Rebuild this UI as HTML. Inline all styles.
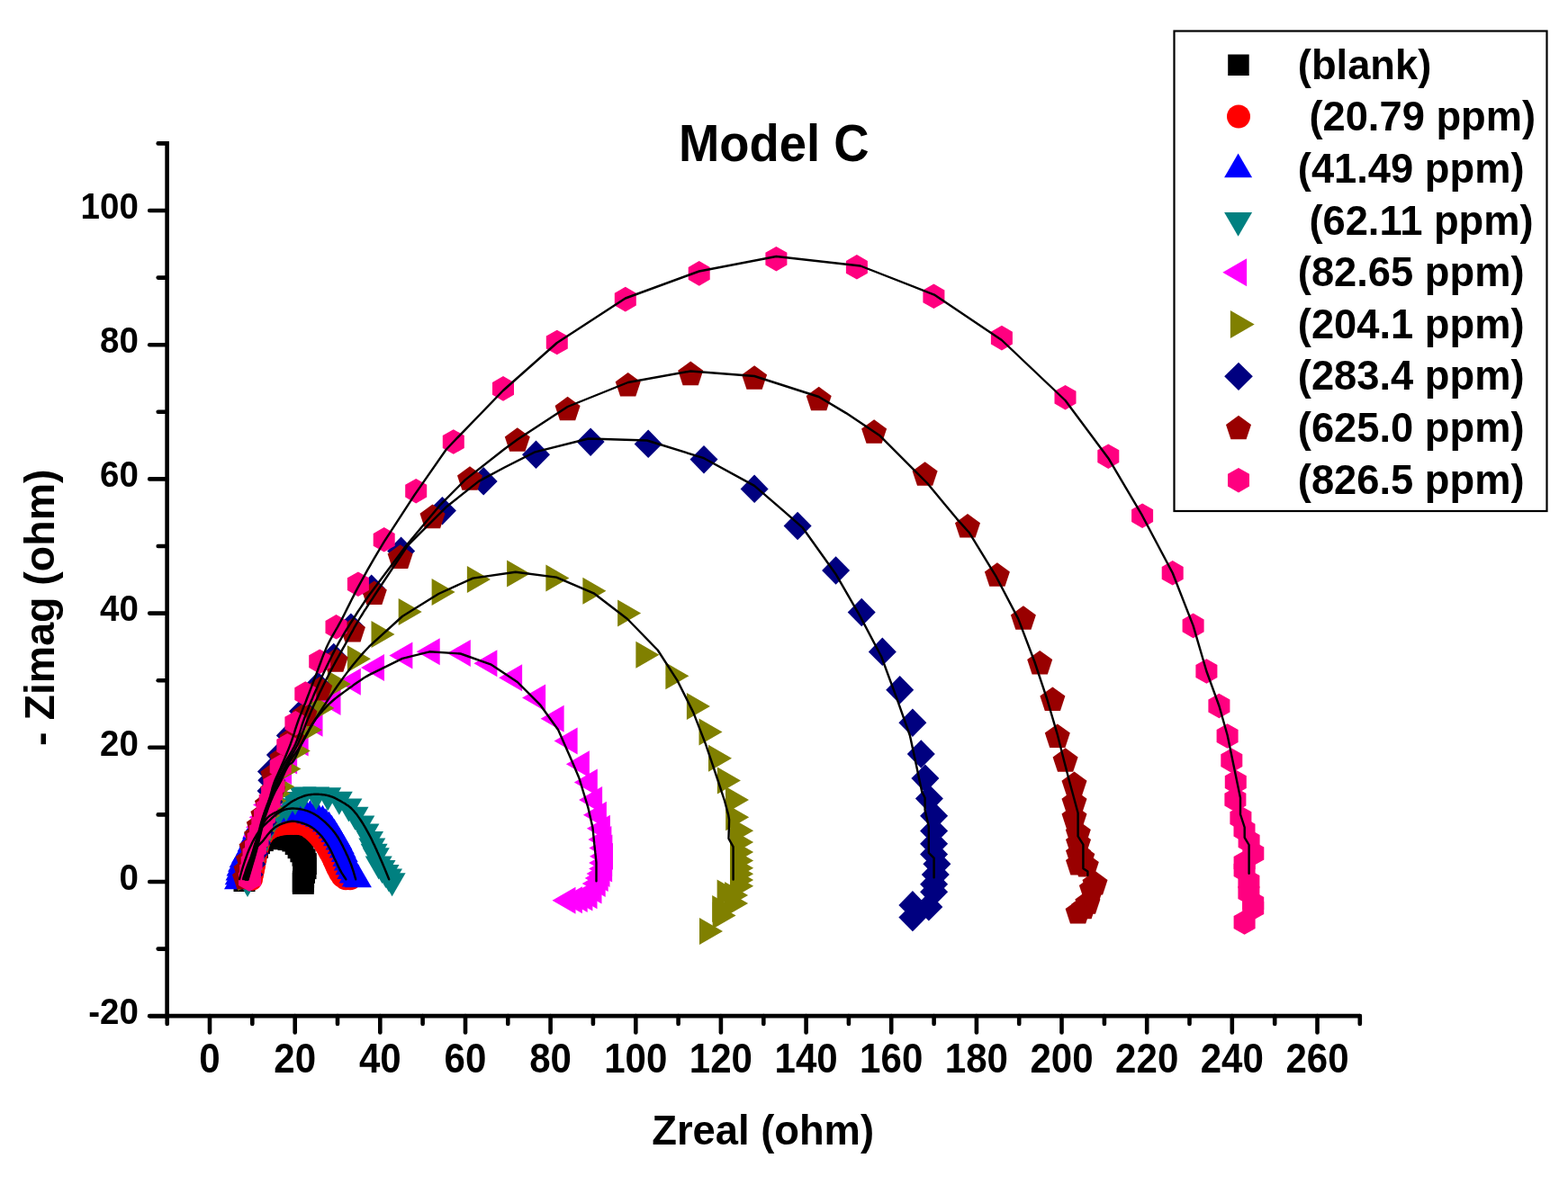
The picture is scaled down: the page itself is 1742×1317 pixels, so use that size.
<!DOCTYPE html>
<html><head><meta charset="utf-8"><title>Model C</title>
<style>html,body{margin:0;padding:0;background:#fff;}svg{display:block;}</style>
</head><body>
<svg width="1742" height="1317" viewBox="0 0 1742 1317">
<rect width="1742" height="1317" fill="#fff"/>
<g fill="#000000">
<rect x="259.5" y="967.0" width="24" height="24"/>
<rect x="261.7" y="962.5" width="24" height="24"/>
<rect x="263.9" y="958.0" width="24" height="24"/>
<rect x="265.9" y="953.4" width="24" height="24"/>
<rect x="267.5" y="948.7" width="24" height="24"/>
<rect x="269.0" y="943.9" width="24" height="24"/>
<rect x="270.6" y="939.2" width="24" height="24"/>
<rect x="272.2" y="934.5" width="24" height="24"/>
<rect x="273.9" y="929.8" width="24" height="24"/>
<rect x="275.9" y="925.2" width="24" height="24"/>
<rect x="279.8" y="922.1" width="24" height="24"/>
<rect x="283.8" y="919.1" width="24" height="24"/>
<rect x="288.8" y="919.0" width="24" height="24"/>
<rect x="293.8" y="919.3" width="24" height="24"/>
<rect x="298.7" y="920.0" width="24" height="24"/>
<rect x="303.7" y="920.3" width="24" height="24"/>
<rect x="308.6" y="921.1" width="24" height="24"/>
<rect x="313.4" y="922.5" width="24" height="24"/>
<rect x="316.7" y="926.1" width="24" height="24"/>
<rect x="319.6" y="930.2" width="24" height="24"/>
<rect x="322.4" y="934.3" width="24" height="24"/>
<rect x="324.5" y="938.8" width="24" height="24"/>
<rect x="326.6" y="943.4" width="24" height="24"/>
<rect x="327.8" y="948.1" width="24" height="24"/>
<rect x="327.5" y="953.1" width="24" height="24"/>
<rect x="326.0" y="957.8" width="24" height="24"/>
<rect x="325.1" y="962.7" width="24" height="24"/>
<rect x="324.8" y="967.7" width="24" height="24"/>
<rect x="324.8" y="969.9" width="24" height="24"/>
</g>
<g fill="#ff0000">
<circle cx="279.0" cy="977.0" r="13"/>
<circle cx="280.0" cy="972.1" r="13"/>
<circle cx="281.0" cy="967.2" r="13"/>
<circle cx="282.0" cy="962.3" r="13"/>
<circle cx="282.8" cy="957.4" r="13"/>
<circle cx="283.6" cy="952.4" r="13"/>
<circle cx="284.6" cy="947.5" r="13"/>
<circle cx="285.6" cy="942.6" r="13"/>
<circle cx="286.8" cy="937.8" r="13"/>
<circle cx="288.0" cy="932.9" r="13"/>
<circle cx="290.8" cy="928.8" r="13"/>
<circle cx="293.6" cy="924.6" r="13"/>
<circle cx="297.5" cy="921.6" r="13"/>
<circle cx="301.7" cy="918.9" r="13"/>
<circle cx="306.3" cy="917.2" r="13"/>
<circle cx="311.2" cy="916.0" r="13"/>
<circle cx="316.1" cy="915.3" r="13"/>
<circle cx="321.1" cy="915.1" r="13"/>
<circle cx="326.1" cy="915.0" r="13"/>
<circle cx="331.1" cy="915.0" r="13"/>
<circle cx="336.0" cy="915.9" r="13"/>
<circle cx="340.9" cy="917.0" r="13"/>
<circle cx="344.9" cy="920.0" r="13"/>
<circle cx="348.8" cy="923.1" r="13"/>
<circle cx="352.4" cy="926.6" r="13"/>
<circle cx="355.7" cy="930.3" r="13"/>
<circle cx="358.9" cy="934.1" r="13"/>
<circle cx="361.6" cy="938.3" r="13"/>
<circle cx="364.3" cy="942.5" r="13"/>
<circle cx="366.7" cy="946.9" r="13"/>
<circle cx="369.1" cy="951.3" r="13"/>
<circle cx="371.2" cy="955.8" r="13"/>
<circle cx="373.3" cy="960.4" r="13"/>
<circle cx="375.4" cy="964.9" r="13"/>
<circle cx="377.7" cy="969.4" r="13"/>
<circle cx="380.4" cy="973.5" r="13"/>
<circle cx="384.1" cy="976.3" r="13"/>
<circle cx="389.0" cy="976.2" r="13"/>
</g>
<g fill="#0000ff">
<polygon points="264.0,962.3 279.0,988.3 249.0,988.3"/>
<polygon points="264.7,957.4 279.7,983.3 249.7,983.3"/>
<polygon points="265.5,952.4 280.5,978.4 250.5,978.4"/>
<polygon points="266.5,947.5 281.5,973.5 251.5,973.5"/>
<polygon points="268.1,942.8 283.1,968.8 253.1,968.8"/>
<polygon points="269.7,938.1 284.7,964.0 254.7,964.0"/>
<polygon points="272.0,933.7 287.0,959.6 257.0,959.6"/>
<polygon points="274.6,929.4 289.6,955.4 259.6,955.4"/>
<polygon points="276.8,924.9 291.8,950.9 261.8,950.9"/>
<polygon points="278.7,920.3 293.7,946.3 263.7,946.3"/>
<polygon points="280.5,915.6 295.5,941.6 265.5,941.6"/>
<polygon points="282.3,911.0 297.3,937.0 267.3,937.0"/>
<polygon points="284.1,906.3 299.1,932.3 269.1,932.3"/>
<polygon points="285.8,901.6 300.8,927.6 270.8,927.6"/>
<polygon points="288.3,897.3 303.3,923.2 273.3,923.2"/>
<polygon points="291.5,893.5 306.5,919.5 276.5,919.5"/>
<polygon points="295.5,890.5 310.5,916.5 280.5,916.5"/>
<polygon points="300.0,888.4 315.0,914.4 285.0,914.4"/>
<polygon points="304.8,887.3 319.8,913.3 289.8,913.3"/>
<polygon points="309.8,886.8 324.8,912.8 294.8,912.8"/>
<polygon points="314.8,886.5 329.8,912.5 299.8,912.5"/>
<polygon points="319.8,886.5 334.8,912.5 304.8,912.5"/>
<polygon points="324.8,886.5 339.8,912.5 309.8,912.5"/>
<polygon points="329.8,886.7 344.8,912.7 314.8,912.7"/>
<polygon points="334.8,887.2 349.8,913.1 319.8,913.1"/>
<polygon points="339.7,888.1 354.7,914.1 324.7,914.1"/>
<polygon points="344.5,889.3 359.5,915.3 329.5,915.3"/>
<polygon points="349.3,890.8 364.3,916.8 334.3,916.8"/>
<polygon points="353.9,892.7 368.9,918.7 338.9,918.7"/>
<polygon points="358.4,894.8 373.4,920.8 343.4,920.8"/>
<polygon points="362.0,898.2 377.0,924.2 347.0,924.2"/>
<polygon points="365.6,901.8 380.6,927.8 350.6,927.8"/>
<polygon points="368.5,905.8 383.5,931.8 353.5,931.8"/>
<polygon points="371.4,909.9 386.4,935.9 356.4,935.9"/>
<polygon points="373.9,914.2 388.9,940.2 358.9,940.2"/>
<polygon points="376.5,918.5 391.5,944.5 361.5,944.5"/>
<polygon points="378.7,923.0 393.7,949.0 363.7,949.0"/>
<polygon points="380.7,927.6 395.7,953.5 365.7,953.5"/>
<polygon points="382.7,932.2 397.7,958.1 367.7,958.1"/>
<polygon points="384.4,936.9 399.4,962.9 369.4,962.9"/>
<polygon points="385.8,941.6 400.8,967.6 370.8,967.6"/>
<polygon points="387.5,946.4 402.5,972.3 372.5,972.3"/>
<polygon points="389.4,951.0 404.4,976.9 374.4,976.9"/>
<polygon points="391.7,955.4 406.7,981.4 376.7,981.4"/>
<polygon points="394.7,959.4 409.7,985.4 379.7,985.4"/>
<polygon points="397.9,960.3 412.9,986.3 382.9,986.3"/>
</g>
<g fill="#008080">
<polygon points="260.0,971.0 290.0,971.0 275.0,997.0"/>
<polygon points="261.5,965.2 291.5,965.2 276.5,991.2"/>
<polygon points="262.9,959.4 292.9,959.4 277.9,985.3"/>
<polygon points="264.8,953.7 294.8,953.7 279.8,979.6"/>
<polygon points="266.7,948.0 296.7,948.0 281.7,974.0"/>
<polygon points="268.6,942.3 298.6,942.3 283.6,968.3"/>
<polygon points="270.5,936.6 300.5,936.6 285.5,962.6"/>
<polygon points="272.7,931.0 302.7,931.0 287.7,957.0"/>
<polygon points="275.0,925.5 305.0,925.5 290.0,951.5"/>
<polygon points="277.4,920.0 307.4,920.0 292.4,946.0"/>
<polygon points="279.9,914.5 309.9,914.5 294.9,940.5"/>
<polygon points="282.7,909.2 312.7,909.2 297.7,935.2"/>
<polygon points="285.8,904.1 315.8,904.1 300.8,930.1"/>
<polygon points="289.4,899.3 319.4,899.3 304.4,925.3"/>
<polygon points="293.3,894.8 323.3,894.8 308.3,920.8"/>
<polygon points="302.9,887.2 332.9,887.2 317.9,913.2"/>
<polygon points="312.9,879.9 342.9,879.9 327.9,905.9"/>
<polygon points="321.5,874.5 351.5,874.5 336.5,900.5"/>
<polygon points="336.2,874.5 366.2,874.5 351.2,900.5"/>
<polygon points="349.2,875.3 379.2,875.3 364.2,901.3"/>
<polygon points="361.8,879.8 391.8,879.8 376.8,905.8"/>
<polygon points="372.4,887.6 402.4,887.6 387.4,913.6"/>
<polygon points="379.5,896.8 409.5,896.8 394.5,922.8"/>
<polygon points="386.3,906.4 416.3,906.4 401.3,932.4"/>
<polygon points="391.4,915.5 421.4,915.5 406.4,941.5"/>
<polygon points="396.0,924.1 426.0,924.1 411.0,950.1"/>
<polygon points="398.3,931.5 428.3,931.5 413.3,957.5"/>
<polygon points="400.6,937.8 430.6,937.8 415.6,963.8"/>
<polygon points="402.8,942.3 432.8,942.3 417.8,968.3"/>
<polygon points="405.7,951.4 435.7,951.4 420.7,977.4"/>
<polygon points="409.5,956.0 439.5,956.0 424.5,982.0"/>
<polygon points="413.5,961.0 443.5,961.0 428.5,987.0"/>
<polygon points="417.0,965.5 447.0,965.5 432.0,991.5"/>
<polygon points="420.6,970.2 450.6,970.2 435.6,996.2"/>
</g>
<g fill="#ff00ff">
<polygon points="263.5,970.0 289.5,955.0 289.5,985.0"/>
<polygon points="264.0,961.0 290.0,946.0 290.0,976.0"/>
<polygon points="265.0,951.0 291.0,936.0 291.0,966.0"/>
<polygon points="267.0,940.0 293.0,925.0 293.0,955.0"/>
<polygon points="269.7,929.2 295.7,914.2 295.7,944.2"/>
<polygon points="273.0,919.2 299.0,904.2 299.0,934.2"/>
<polygon points="276.6,908.3 302.6,893.3 302.6,923.3"/>
<polygon points="281.0,894.6 307.0,879.6 307.0,909.6"/>
<polygon points="287.5,880.5 313.5,865.5 313.5,895.5"/>
<polygon points="293.5,867.2 319.5,852.2 319.5,882.2"/>
<polygon points="298.0,857.0 324.0,842.0 324.0,872.0"/>
<polygon points="304.1,845.4 330.1,830.4 330.1,860.4"/>
<polygon points="316.6,825.4 342.6,810.4 342.6,840.4"/>
<polygon points="332.5,803.7 358.5,788.7 358.5,818.7"/>
<polygon points="352.5,780.0 378.5,765.0 378.5,795.0"/>
<polygon points="374.8,757.7 400.8,742.7 400.8,772.7"/>
<polygon points="401.0,741.9 427.0,726.9 427.0,756.9"/>
<polygon points="432.4,728.5 458.4,713.5 458.4,743.5"/>
<polygon points="462.7,724.2 488.7,709.2 488.7,739.2"/>
<polygon points="496.8,725.9 522.8,710.9 522.8,740.9"/>
<polygon points="526.4,737.3 552.4,722.3 552.4,752.3"/>
<polygon points="554.1,753.3 580.1,738.3 580.1,768.3"/>
<polygon points="580.1,775.4 606.1,760.4 606.1,790.4"/>
<polygon points="600.6,798.7 626.6,783.7 626.6,813.7"/>
<polygon points="615.6,823.4 641.6,808.4 641.6,838.4"/>
<polygon points="628.9,849.2 654.9,834.2 654.9,864.2"/>
<polygon points="637.8,869.6 663.8,854.6 663.8,884.6"/>
<polygon points="643.1,889.1 669.1,874.1 669.1,904.1"/>
<polygon points="647.9,905.7 673.9,890.7 673.9,920.7"/>
<polygon points="651.9,920.8 677.9,905.8 677.9,935.8"/>
<polygon points="653.4,933.1 679.4,918.1 679.4,948.1"/>
<polygon points="654.4,942.5 680.4,927.5 680.4,957.5"/>
<polygon points="655.0,951.8 681.0,936.8 681.0,966.8"/>
<polygon points="654.1,959.0 680.1,944.0 680.1,974.0"/>
<polygon points="654.1,965.5 680.1,950.5 680.1,980.5"/>
<polygon points="651.5,971.0 677.5,956.0 677.5,986.0"/>
<polygon points="649.7,976.0 675.7,961.0 675.7,991.0"/>
<polygon points="646.7,982.0 672.7,967.0 672.7,997.0"/>
<polygon points="642.5,989.5 668.5,974.5 668.5,1004.5"/>
<polygon points="637.5,995.3 663.5,980.3 663.5,1010.3"/>
<polygon points="632.4,997.4 658.4,982.4 658.4,1012.4"/>
<polygon points="626.7,998.9 652.7,983.9 652.7,1013.9"/>
<polygon points="620.9,1000.3 646.9,985.3 646.9,1015.3"/>
<polygon points="613.5,1000.7 639.5,985.7 639.5,1015.7"/>
</g>
<g fill="#808000">
<polygon points="290.4,975.2 264.4,960.2 264.4,990.2"/>
<polygon points="292.4,966.4 266.4,951.4 266.4,981.4"/>
<polygon points="294.7,957.7 268.7,942.7 268.7,972.7"/>
<polygon points="297.1,949.0 271.1,934.0 271.1,964.0"/>
<polygon points="299.5,940.4 273.6,925.4 273.6,955.4"/>
<polygon points="302.7,932.0 276.7,917.0 276.7,947.0"/>
<polygon points="306.0,923.6 280.0,908.6 280.0,938.6"/>
<polygon points="308.8,915.0 282.8,900.0 282.8,930.0"/>
<polygon points="311.5,906.5 285.5,891.5 285.5,921.5"/>
<polygon points="314.5,898.0 288.5,883.0 288.5,913.0"/>
<polygon points="318.4,889.9 292.4,874.9 292.4,904.9"/>
<polygon points="322.7,882.0 296.7,867.0 296.7,897.0"/>
<polygon points="327.3,874.3 301.4,859.3 301.4,889.3"/>
<polygon points="334.4,854.6 308.4,839.6 308.4,869.6"/>
<polygon points="344.8,834.6 318.8,819.6 318.8,849.6"/>
<polygon points="357.8,811.2 331.8,796.2 331.8,826.2"/>
<polygon points="371.5,787.0 345.5,772.0 345.5,802.0"/>
<polygon points="389.9,760.2 363.9,745.2 363.9,775.2"/>
<polygon points="411.9,732.2 385.9,717.2 385.9,747.2"/>
<polygon points="438.5,705.1 412.5,690.1 412.5,720.1"/>
<polygon points="468.7,680.0 442.7,665.0 442.7,695.0"/>
<polygon points="505.6,658.1 479.6,643.1 479.6,673.1"/>
<polygon points="544.9,644.0 518.9,629.0 518.9,659.0"/>
<polygon points="589.1,637.6 563.1,622.6 563.1,652.6"/>
<polygon points="632.4,642.4 606.4,627.4 606.4,657.4"/>
<polygon points="673.4,656.8 647.4,641.8 647.4,671.8"/>
<polygon points="712.1,681.5 686.1,666.5 686.1,696.5"/>
<polygon points="732.4,727.8 706.4,712.8 706.4,742.8"/>
<polygon points="765.4,751.3 739.4,736.3 739.4,766.3"/>
<polygon points="788.9,785.1 762.9,770.1 762.9,800.1"/>
<polygon points="802.5,813.5 776.5,798.5 776.5,828.5"/>
<polygon points="813.0,842.7 787.0,827.7 787.0,857.7"/>
<polygon points="822.9,867.4 796.9,852.4 796.9,882.4"/>
<polygon points="832.0,888.9 806.0,873.9 806.0,903.9"/>
<polygon points="832.2,908.3 806.2,893.3 806.2,923.3"/>
<polygon points="837.1,923.3 811.1,908.3 811.1,938.3"/>
<polygon points="837.1,936.0 811.1,921.0 811.1,951.0"/>
<polygon points="837.1,947.0 811.1,932.0 811.1,962.0"/>
<polygon points="837.1,956.6 811.1,941.6 811.1,971.6"/>
<polygon points="837.1,964.8 811.1,949.8 811.1,979.8"/>
<polygon points="837.1,971.2 811.1,956.2 811.1,986.2"/>
<polygon points="837.1,978.0 811.1,963.0 811.1,993.0"/>
<polygon points="837.1,984.8 811.1,969.8 811.1,999.8"/>
<polygon points="831.1,994.9 805.1,979.9 805.1,1009.9"/>
<polygon points="822.6,992.6 796.6,977.6 796.6,1007.6"/>
<polygon points="831.1,1004.0 805.1,989.0 805.1,1019.0"/>
<polygon points="817.2,1010.0 791.2,995.0 791.2,1025.0"/>
<polygon points="817.6,1017.6 791.6,1002.6 791.6,1032.6"/>
<polygon points="803.0,1035.0 777.0,1020.0 777.0,1050.0"/>
</g>
<g fill="#000080">
<polygon points="277.0,956.2 292.5,972.0 277.0,987.8 261.5,972.0"/>
<polygon points="279.9,944.6 295.4,960.4 279.9,976.1 264.4,960.4"/>
<polygon points="282.8,933.0 298.3,948.7 282.8,964.5 267.3,948.7"/>
<polygon points="285.7,921.3 301.2,937.1 285.7,952.8 270.2,937.1"/>
<polygon points="289.0,909.8 304.5,925.5 289.0,941.3 273.5,925.5"/>
<polygon points="292.4,898.3 307.9,914.0 292.4,929.8 276.9,914.0"/>
<polygon points="296.1,886.9 311.6,902.6 296.1,918.4 280.6,902.6"/>
<polygon points="298.9,875.2 314.4,891.0 298.9,906.7 283.4,891.0"/>
<polygon points="301.0,863.4 316.5,879.1 301.0,894.9 285.5,879.1"/>
<polygon points="301.8,851.5 317.3,867.2 301.8,883.0 286.3,867.2"/>
<polygon points="301.4,841.8 316.9,857.5 301.4,873.2 285.9,857.5"/>
<polygon points="311.4,823.4 326.9,839.1 311.4,854.9 295.9,839.1"/>
<polygon points="322.3,801.6 337.8,817.4 322.3,833.1 306.8,817.4"/>
<polygon points="336.5,774.9 352.0,790.6 336.5,806.4 321.0,790.6"/>
<polygon points="353.2,746.5 368.7,762.2 353.2,778.0 337.7,762.2"/>
<polygon points="370.7,714.8 386.2,730.5 370.7,746.2 355.2,730.5"/>
<polygon points="389.9,681.4 405.4,697.1 389.9,712.9 374.4,697.1"/>
<polygon points="412.7,638.5 428.2,654.2 412.7,670.0 397.2,654.2"/>
<polygon points="445.6,596.6 461.1,612.4 445.6,628.1 430.1,612.4"/>
<polygon points="491.4,551.9 506.9,567.6 491.4,583.4 475.9,567.6"/>
<polygon points="537.2,519.1 552.7,534.9 537.2,550.6 521.7,534.9"/>
<polygon points="595.5,489.6 611.0,505.3 595.5,521.0 580.0,505.3"/>
<polygon points="656.1,475.4 671.6,491.1 656.1,506.9 640.6,491.1"/>
<polygon points="720.2,477.6 735.7,493.4 720.2,509.1 704.7,493.4"/>
<polygon points="782.0,494.9 797.5,510.6 782.0,526.4 766.5,510.6"/>
<polygon points="838.1,527.6 853.6,543.4 838.1,559.1 822.6,543.4"/>
<polygon points="886.1,568.8 901.6,584.5 886.1,600.2 870.6,584.5"/>
<polygon points="928.6,618.2 944.1,634.0 928.6,649.8 913.1,634.0"/>
<polygon points="957.2,664.8 972.7,680.5 957.2,696.2 941.7,680.5"/>
<polygon points="980.3,708.6 995.8,724.4 980.3,740.1 964.8,724.4"/>
<polygon points="999.7,751.0 1015.2,766.8 999.7,782.5 984.2,766.8"/>
<polygon points="1013.9,787.5 1029.4,803.3 1013.9,819.0 998.4,803.3"/>
<polygon points="1023.3,822.2 1038.8,838.0 1023.3,853.8 1007.8,838.0"/>
<polygon points="1027.9,849.4 1043.4,865.1 1027.9,880.9 1012.4,865.1"/>
<polygon points="1032.4,871.9 1047.9,887.6 1032.4,903.4 1016.9,887.6"/>
<polygon points="1037.6,891.0 1053.1,906.8 1037.6,922.5 1022.1,906.8"/>
<polygon points="1037.6,907.8 1053.1,923.5 1037.6,939.2 1022.1,923.5"/>
<polygon points="1037.6,922.0 1053.1,937.7 1037.6,953.5 1022.1,937.7"/>
<polygon points="1037.6,933.6 1053.1,949.4 1037.6,965.1 1022.1,949.4"/>
<polygon points="1040.9,944.5 1056.4,960.3 1040.9,976.0 1025.4,960.3"/>
<polygon points="1039.3,956.2 1054.8,972.0 1039.3,987.8 1023.8,972.0"/>
<polygon points="1037.6,967.0 1053.1,982.8 1037.6,998.5 1022.1,982.8"/>
<polygon points="1037.6,975.5 1053.1,991.2 1037.6,1007.0 1022.1,991.2"/>
<polygon points="1031.8,992.1 1047.3,1007.9 1031.8,1023.6 1016.3,1007.9"/>
<polygon points="1013.9,990.1 1029.4,1005.9 1013.9,1021.6 998.4,1005.9"/>
<polygon points="1013.9,1003.9 1029.4,1019.6 1013.9,1035.3 998.4,1019.6"/>
</g>
<g fill="#990000">
<polygon points="272.0,961.7 286.0,971.9 280.6,988.3 263.4,988.3 258.0,971.9"/>
<polygon points="273.5,952.7 287.5,962.9 282.1,979.3 264.9,979.3 259.5,962.9"/>
<polygon points="276.0,941.8 290.0,952.0 284.6,968.4 267.4,968.4 262.0,952.0"/>
<polygon points="279.6,928.1 293.6,938.3 288.2,954.7 271.0,954.7 265.6,938.3"/>
<polygon points="285.1,914.5 299.1,924.7 293.7,941.1 276.5,941.1 271.1,924.7"/>
<polygon points="287.8,903.5 301.8,913.7 296.4,930.1 279.2,930.1 273.8,913.7"/>
<polygon points="292.4,891.7 306.4,901.9 301.0,918.3 283.8,918.3 278.4,901.9"/>
<polygon points="297.0,879.8 311.0,890.0 305.6,906.4 288.4,906.4 283.0,890.0"/>
<polygon points="303.3,864.4 317.3,874.6 311.9,891.0 294.7,891.0 289.3,874.6"/>
<polygon points="303.4,847.2 317.4,857.4 312.0,873.8 294.8,873.8 289.4,857.4"/>
<polygon points="313.4,828.8 327.4,839.0 322.0,855.4 304.8,855.4 299.4,839.0"/>
<polygon points="324.3,807.1 338.3,817.3 332.9,833.7 315.7,833.7 310.3,817.3"/>
<polygon points="338.5,780.3 352.5,790.5 347.1,806.9 329.9,806.9 324.5,790.5"/>
<polygon points="355.2,751.9 369.2,762.1 363.8,778.5 346.6,778.5 341.2,762.1"/>
<polygon points="372.7,720.2 386.7,730.4 381.3,746.8 364.1,746.8 358.7,730.4"/>
<polygon points="391.9,686.8 405.9,697.0 400.5,713.4 383.3,713.4 377.9,697.0"/>
<polygon points="415.8,645.4 429.8,655.6 424.4,672.0 407.2,672.0 401.8,655.6"/>
<polygon points="444.6,605.3 458.6,615.5 453.2,631.9 436.0,631.9 430.6,615.5"/>
<polygon points="480.5,560.6 494.5,570.8 489.1,587.2 471.9,587.2 466.5,570.8"/>
<polygon points="522.0,518.2 536.0,528.4 530.6,544.8 513.4,544.8 508.0,528.4"/>
<polygon points="574.8,475.2 588.8,485.4 583.4,501.8 566.2,501.8 560.8,485.4"/>
<polygon points="630.6,440.7 644.6,450.9 639.2,467.3 622.0,467.3 616.6,450.9"/>
<polygon points="697.7,414.0 711.7,424.2 706.3,440.6 689.1,440.6 683.7,424.2"/>
<polygon points="767.2,401.6 781.2,411.8 775.8,428.2 758.6,428.2 753.2,411.8"/>
<polygon points="838.1,406.2 852.1,416.4 846.7,432.8 829.5,432.8 824.1,416.4"/>
<polygon points="909.7,429.7 923.7,439.9 918.3,456.3 901.1,456.3 895.7,439.9"/>
<polygon points="971.1,466.2 985.1,476.4 979.7,492.8 962.5,492.8 957.1,476.4"/>
<polygon points="1027.6,513.2 1041.6,523.4 1036.2,539.8 1019.0,539.8 1013.6,523.4"/>
<polygon points="1075.0,571.0 1089.0,581.2 1083.6,597.6 1066.4,597.6 1061.0,581.2"/>
<polygon points="1107.9,625.2 1121.9,635.4 1116.5,651.8 1099.3,651.8 1093.9,635.4"/>
<polygon points="1136.9,673.2 1150.9,683.4 1145.5,699.8 1128.3,699.8 1122.9,683.4"/>
<polygon points="1155.2,722.9 1169.2,733.1 1163.8,749.5 1146.6,749.5 1141.2,733.1"/>
<polygon points="1169.4,763.4 1183.4,773.6 1178.0,790.0 1160.8,790.0 1155.4,773.6"/>
<polygon points="1174.8,804.4 1188.8,814.6 1183.4,831.0 1166.2,831.0 1160.8,814.6"/>
<polygon points="1183.6,831.2 1197.6,841.4 1192.2,857.8 1175.0,857.8 1169.6,841.4"/>
<polygon points="1193.5,857.5 1207.5,867.7 1202.1,884.1 1184.9,884.1 1179.5,867.7"/>
<polygon points="1193.5,877.5 1207.5,887.7 1202.1,904.1 1184.9,904.1 1179.5,887.7"/>
<polygon points="1193.5,894.3 1207.5,904.5 1202.1,920.9 1184.9,920.9 1179.5,904.5"/>
<polygon points="1197.8,911.8 1211.8,922.0 1206.4,938.4 1189.2,938.4 1183.8,922.0"/>
<polygon points="1198.0,922.7 1212.0,932.9 1206.6,949.3 1189.4,949.3 1184.0,932.9"/>
<polygon points="1198.0,935.0 1212.0,945.2 1206.6,961.6 1189.4,961.6 1184.0,945.2"/>
<polygon points="1202.3,938.8 1216.3,949.0 1210.9,965.4 1193.7,965.4 1188.3,949.0"/>
<polygon points="1198.0,945.9 1212.0,956.1 1206.6,972.5 1189.4,972.5 1184.0,956.1"/>
<polygon points="1206.8,947.8 1220.8,958.0 1215.4,974.4 1198.2,974.4 1192.8,958.0"/>
<polygon points="1216.5,967.8 1230.5,978.0 1225.1,994.4 1207.9,994.4 1202.5,978.0"/>
<polygon points="1212.9,973.7 1226.9,983.9 1221.5,1000.3 1204.3,1000.3 1198.9,983.9"/>
<polygon points="1208.4,989.2 1222.4,999.4 1217.0,1015.8 1199.8,1015.8 1194.4,999.4"/>
<polygon points="1204.0,994.7 1218.0,1004.9 1212.6,1021.3 1195.4,1021.3 1190.0,1004.9"/>
<polygon points="1197.6,999.9 1211.6,1010.1 1206.2,1026.5 1189.0,1026.5 1183.6,1010.1"/>
</g>
<g fill="#ff0080">
<polygon points="277.0,963.2 289.0,970.1 289.0,983.9 277.0,990.8 265.0,983.9 265.0,970.1"/>
<polygon points="278.1,954.3 290.1,961.2 290.1,975.0 278.1,981.9 266.2,975.0 266.2,961.2"/>
<polygon points="279.7,945.4 291.6,952.3 291.6,966.1 279.7,973.0 267.7,966.1 267.7,952.3"/>
<polygon points="281.4,936.6 293.4,943.5 293.4,957.3 281.4,964.2 269.5,957.3 269.5,943.5"/>
<polygon points="284.0,928.0 295.9,934.9 295.9,948.7 284.0,955.6 272.0,948.7 272.0,934.9"/>
<polygon points="286.5,919.3 298.5,926.2 298.5,940.0 286.5,946.9 274.6,940.0 274.6,926.2"/>
<polygon points="289.0,910.7 300.9,917.6 300.9,931.4 289.0,938.3 277.0,931.4 277.0,917.6"/>
<polygon points="291.3,902.0 303.2,908.9 303.2,922.7 291.3,929.6 279.3,922.7 279.3,908.9"/>
<polygon points="293.9,893.4 305.9,900.3 305.9,914.1 293.9,921.0 282.0,914.1 282.0,900.3"/>
<polygon points="296.7,884.8 308.6,891.7 308.6,905.5 296.7,912.4 284.7,905.5 284.7,891.7"/>
<polygon points="299.6,876.3 311.6,883.2 311.6,897.0 299.6,903.9 287.7,897.0 287.7,883.2"/>
<polygon points="302.1,867.6 314.0,874.5 314.0,888.3 302.1,895.2 290.1,888.3 290.1,874.5"/>
<polygon points="304.5,859.0 316.4,865.9 316.4,879.7 304.5,886.6 292.5,879.7 292.5,865.9"/>
<polygon points="311.7,838.3 323.7,845.2 323.7,859.0 311.7,865.9 299.7,859.0 299.7,845.2"/>
<polygon points="319.3,814.9 331.3,821.8 331.3,835.6 319.3,842.5 307.3,835.6 307.3,821.8"/>
<polygon points="328.4,789.9 340.4,796.8 340.4,810.6 328.4,817.5 316.4,810.6 316.4,796.8"/>
<polygon points="339.3,757.3 351.3,764.2 351.3,778.0 339.3,784.9 327.3,778.0 327.3,764.2"/>
<polygon points="355.2,721.4 367.2,728.3 367.2,742.1 355.2,749.0 343.2,742.1 343.2,728.3"/>
<polygon points="373.5,683.0 385.5,689.9 385.5,703.7 373.5,710.6 361.5,703.7 361.5,689.9"/>
<polygon points="397.9,635.4 409.9,642.3 409.9,656.1 397.9,663.0 385.9,656.1 385.9,642.3"/>
<polygon points="426.7,586.0 438.7,592.9 438.7,606.7 426.7,613.6 414.7,606.7 414.7,592.9"/>
<polygon points="462.2,531.9 474.2,538.8 474.2,552.6 462.2,559.5 450.2,552.6 450.2,538.8"/>
<polygon points="503.8,477.2 515.8,484.1 515.8,497.9 503.8,504.8 491.8,497.9 491.8,484.1"/>
<polygon points="559.0,418.1 571.0,425.0 571.0,438.8 559.0,445.7 547.0,438.8 547.0,425.0"/>
<polygon points="618.8,366.7 630.8,373.6 630.8,387.4 618.8,394.3 606.8,387.4 606.8,373.6"/>
<polygon points="694.8,318.8 706.8,325.7 706.8,339.5 694.8,346.4 682.8,339.5 682.8,325.7"/>
<polygon points="776.7,290.1 788.7,297.0 788.7,310.8 776.7,317.7 764.7,310.8 764.7,297.0"/>
<polygon points="862.4,273.9 874.4,280.8 874.4,294.6 862.4,301.5 850.4,294.6 850.4,280.8"/>
<polygon points="951.9,283.0 963.9,289.9 963.9,303.7 951.9,310.6 939.9,303.7 939.9,289.9"/>
<polygon points="1037.4,315.5 1049.4,322.4 1049.4,336.2 1037.4,343.1 1025.4,336.2 1025.4,322.4"/>
<polygon points="1112.9,361.8 1124.9,368.7 1124.9,382.5 1112.9,389.4 1100.9,382.5 1100.9,368.7"/>
<polygon points="1183.5,427.9 1195.5,434.8 1195.5,448.6 1183.5,455.5 1171.5,448.6 1171.5,434.8"/>
<polygon points="1231.3,493.4 1243.3,500.3 1243.3,514.1 1231.3,521.0 1219.3,514.1 1219.3,500.3"/>
<polygon points="1269.1,559.4 1281.1,566.3 1281.1,580.1 1269.1,587.0 1257.1,580.1 1257.1,566.3"/>
<polygon points="1302.7,623.0 1314.7,629.9 1314.7,643.7 1302.7,650.6 1290.7,643.7 1290.7,629.9"/>
<polygon points="1325.6,681.6 1337.6,688.5 1337.6,702.3 1325.6,709.2 1313.6,702.3 1313.6,688.5"/>
<polygon points="1340.4,732.2 1352.4,739.1 1352.4,752.9 1340.4,759.8 1328.4,752.9 1328.4,739.1"/>
<polygon points="1354.4,770.7 1366.4,777.6 1366.4,791.4 1354.4,798.3 1342.4,791.4 1342.4,777.6"/>
<polygon points="1363.6,804.2 1375.6,811.1 1375.6,824.9 1363.6,831.8 1351.6,824.9 1351.6,811.1"/>
<polygon points="1368.3,831.4 1380.3,838.3 1380.3,852.1 1368.3,859.0 1356.3,852.1 1356.3,838.3"/>
<polygon points="1372.8,855.4 1384.8,862.3 1384.8,876.1 1372.8,883.0 1360.8,876.1 1360.8,862.3"/>
<polygon points="1372.4,874.9 1384.4,881.8 1384.4,895.6 1372.4,902.5 1360.4,895.6 1360.4,881.8"/>
<polygon points="1378.4,895.4 1390.4,902.3 1390.4,916.1 1378.4,923.0 1366.4,916.1 1366.4,902.3"/>
<polygon points="1382.5,908.8 1394.5,915.7 1394.5,929.5 1382.5,936.4 1370.5,929.5 1370.5,915.7"/>
<polygon points="1387.6,921.1 1399.6,928.0 1399.6,941.8 1387.6,948.7 1375.6,941.8 1375.6,928.0"/>
<polygon points="1392.3,934.7 1404.3,941.6 1404.3,955.4 1392.3,962.3 1380.3,955.4 1380.3,941.6"/>
<polygon points="1382.6,945.2 1394.6,952.1 1394.6,965.9 1382.6,972.8 1370.6,965.9 1370.6,952.1"/>
<polygon points="1382.6,953.2 1394.6,960.1 1394.6,973.9 1382.6,980.8 1370.6,973.9 1370.6,960.1"/>
<polygon points="1387.4,966.2 1399.4,973.1 1399.4,986.9 1387.4,993.8 1375.4,986.9 1375.4,973.1"/>
<polygon points="1387.4,978.2 1399.4,985.1 1399.4,998.9 1387.4,1005.8 1375.4,998.9 1375.4,985.1"/>
<polygon points="1392.2,990.2 1404.2,997.1 1404.2,1010.9 1392.2,1017.8 1380.2,1010.9 1380.2,997.1"/>
<polygon points="1392.2,995.2 1404.2,1002.1 1404.2,1015.9 1392.2,1022.8 1380.2,1015.9 1380.2,1002.1"/>
<polygon points="1382.6,1011.2 1394.6,1018.1 1394.6,1031.9 1382.6,1038.8 1370.6,1031.9 1370.6,1018.1"/>
</g>
<g fill="none" stroke="#000" stroke-width="2.4" stroke-linejoin="round" stroke-linecap="round">
<polyline points="270.0,977.0 270.2,976.4 270.7,974.7 271.5,972.3 272.5,969.3 273.6,966.0 274.8,962.7 275.9,959.6 277.0,957.0 277.9,954.9 278.9,952.9 279.9,950.9 280.9,948.9 281.9,947.0 282.9,945.2 284.0,943.5 285.0,942.0 285.8,941.0 286.5,940.2 287.3,939.4 288.1,938.7 288.9,937.9 289.6,937.2 290.4,936.4 291.2,935.6 292.1,934.5 293.0,933.4 293.9,932.2 294.8,931.0 295.7,929.9 296.6,928.7 297.5,927.6 298.4,926.5 299.2,925.6 300.0,924.7 300.7,923.9 301.5,923.1 302.3,922.3 303.1,921.5 303.9,920.8 304.8,920.1 305.7,919.4 306.7,918.8 307.6,918.2 308.6,917.6 309.7,917.1 310.7,916.5 311.8,916.1 313.0,915.6 314.4,915.1 315.9,914.6 317.5,914.1 319.1,913.6 320.7,913.3 322.4,913.0 324.1,912.8 325.8,912.8 327.8,912.9 330.0,913.3 332.2,913.7 334.4,914.3 336.7,915.0 338.8,915.8 340.9,916.6 342.8,917.5 344.4,918.4 346.0,919.3 347.4,920.3 348.9,921.3 350.2,922.4 351.6,923.6 352.9,924.8 354.2,926.1 355.6,927.6 357.0,929.1 358.3,930.8 359.6,932.5 360.9,934.3 362.1,936.1 363.3,937.9 364.4,939.7 365.5,941.6 366.6,943.6 367.6,945.6 368.6,947.6 369.6,949.7 370.5,951.7 371.4,953.7 372.4,955.7 373.3,957.5 374.1,959.3 375.0,961.1 375.8,962.9 376.7,964.6 377.5,966.3 378.4,967.9 379.2,969.4 379.9,970.6 380.8,971.9 381.6,973.2 382.5,974.5 383.2,975.6 383.8,976.5 384.2,977.1 384.4,977.3"/>
<polyline points="266.0,977.0 266.2,976.4 266.6,974.8 267.3,972.4 268.1,969.5 269.1,966.2 270.1,962.9 271.1,959.8 272.0,957.0 272.9,954.5 273.8,951.9 274.7,949.3 275.7,946.8 276.7,944.3 277.8,941.8 278.9,939.4 280.0,937.0 281.1,934.8 282.3,932.7 283.5,930.6 284.7,928.5 286.0,926.5 287.3,924.6 288.6,922.8 290.0,921.0 291.2,919.6 292.5,918.2 293.8,916.9 295.2,915.6 296.5,914.4 297.8,913.2 299.1,912.1 300.3,911.0 301.2,910.1 302.1,909.2 303.0,908.4 303.9,907.6 304.7,906.8 305.6,906.1 306.6,905.3 307.6,904.6 308.8,903.8 310.1,903.0 311.4,902.2 312.7,901.5 314.1,900.8 315.5,900.1 317.0,899.6 318.5,899.2 320.3,898.9 322.1,898.7 324.0,898.5 325.9,898.5 327.9,898.6 329.9,898.8 331.8,899.0 333.7,899.3 335.6,899.7 337.5,900.1 339.3,900.6 341.2,901.2 343.1,901.9 344.9,902.6 346.7,903.5 348.5,904.4 350.4,905.5 352.4,906.8 354.3,908.1 356.2,909.6 358.0,911.1 359.9,912.6 361.6,914.2 363.3,915.8 364.9,917.4 366.4,919.0 367.9,920.6 369.4,922.3 370.7,924.1 372.1,925.8 373.4,927.6 374.7,929.5 376.0,931.5 377.2,933.6 378.4,935.7 379.5,937.9 380.7,940.1 381.7,942.3 382.8,944.5 383.8,946.6 384.7,948.6 385.7,950.6 386.6,952.6 387.4,954.6 388.3,956.6 389.1,958.6 389.9,960.5 390.6,962.5 391.3,964.6 392.1,966.9 392.9,969.4 393.6,971.8 394.2,973.9 394.7,975.7 395.1,976.9 395.2,977.3"/>
<polyline points="272.0,977.0 272.2,976.3 272.7,974.2 273.6,971.3 274.6,967.6 275.7,963.5 276.8,959.4 278.0,955.4 279.0,952.0 279.9,948.9 280.9,945.9 281.8,942.8 282.7,939.7 283.7,936.7 284.8,933.7 285.9,930.8 287.0,928.0 288.1,925.4 289.2,922.8 290.2,920.3 291.4,917.8 292.6,915.3 293.9,913.1 295.4,910.9 297.0,909.0 298.7,907.4 300.6,906.0 302.6,904.8 304.7,903.6 306.9,902.6 309.0,901.5 311.1,900.4 313.0,899.2 314.7,898.0 316.3,896.8 317.9,895.6 319.4,894.4 321.0,893.2 322.5,892.1 324.1,891.0 325.8,890.0 327.5,889.1 329.3,888.2 331.0,887.3 332.9,886.5 334.7,885.8 336.5,885.1 338.2,884.5 340.0,884.0 341.5,883.6 343.0,883.4 344.5,883.2 345.9,883.0 347.4,882.9 348.9,882.8 350.4,882.8 351.9,882.8 353.6,882.8 355.3,882.9 357.0,883.0 358.7,883.2 360.5,883.4 362.2,883.7 363.9,884.1 365.6,884.5 367.3,885.1 369.1,885.7 370.8,886.4 372.6,887.2 374.3,888.1 375.9,889.0 377.6,889.9 379.2,890.8 380.7,891.7 382.2,892.5 383.7,893.4 385.1,894.4 386.5,895.3 387.9,896.4 389.3,897.5 390.6,898.7 392.1,900.3 393.6,901.9 395.1,903.7 396.6,905.6 398.0,907.6 399.4,909.6 400.7,911.5 402.0,913.5 403.2,915.4 404.4,917.4 405.6,919.3 406.7,921.3 407.8,923.3 408.9,925.3 410.0,927.4 411.1,929.5 412.3,931.8 413.5,934.2 414.6,936.7 415.8,939.1 416.9,941.6 418.1,944.0 419.1,946.5 420.2,948.8 421.1,950.9 422.0,952.9 422.9,955.0 423.8,957.0 424.7,959.0 425.5,961.0 426.3,962.9 427.1,964.8 432.2,977.3"/>
<polyline points="275.5,977.5 275.8,976.6 276.6,974.0 277.7,970.2 279.1,965.5 280.6,960.2 282.2,954.8 283.7,949.6 285.0,945.0 286.2,940.4 287.4,935.7 288.5,930.9 289.7,926.1 290.8,921.4 292.0,916.7 293.2,912.2 294.5,908.0 295.6,904.7 296.7,901.5 297.8,898.3 298.9,895.3 300.0,892.3 301.2,889.4 302.3,886.7 303.5,884.0 304.5,881.9 305.4,880.0 306.4,878.2 307.4,876.4 308.4,874.6 309.5,872.8 310.5,870.9 311.5,869.0 312.7,866.6 313.9,864.0 315.1,861.3 316.3,858.6 317.5,856.0 318.7,853.6 319.9,851.6 321.0,850.0 321.5,849.5 322.0,849.1 322.5,848.8 323.0,848.5 323.5,848.3 324.0,848.0 324.6,847.6 325.1,847.0 326.4,845.1 327.8,842.6 329.2,839.7 330.7,836.4 332.2,832.9 333.7,829.4 335.3,826.1 336.8,823.0 338.2,820.3 339.6,817.6 341.0,814.9 342.5,812.3 343.9,809.7 345.5,807.1 347.1,804.5 348.8,802.0 350.7,799.3 352.8,796.7 354.9,794.0 357.2,791.4 359.4,788.8 361.8,786.3 364.1,783.9 366.5,781.6 368.8,779.5 371.1,777.5 373.4,775.6 375.8,773.8 378.2,772.0 380.6,770.2 383.1,768.4 385.7,766.5 388.5,764.4 391.4,762.4 394.3,760.3 397.2,758.2 400.3,756.2 403.4,754.1 406.6,752.1 410.0,750.1 447.0,731.8 477.1,724.3 511.6,726.5 545.1,738.3 574.8,758.0 600.4,783.7 620.2,811.3 635.9,846.9 643.3,864.5 653.4,897.7 658.4,919.4 660.6,941.0 662.5,958.3 662.5,979.2"/>
<polyline points="275.0,977.5 275.3,976.6 276.1,974.0 277.2,970.2 278.6,965.5 280.1,960.2 281.7,954.8 283.2,949.6 284.5,945.0 285.7,940.4 286.9,935.7 288.0,930.9 289.2,926.0 290.4,921.2 291.5,916.6 292.7,912.2 294.0,908.0 295.0,904.9 296.1,902.0 297.1,899.1 298.2,896.4 299.3,893.7 300.3,891.1 301.4,888.5 302.5,886.0 303.4,883.9 304.4,881.8 305.3,879.8 306.2,877.9 307.1,875.9 308.1,874.0 309.0,872.0 310.0,870.0 311.0,867.8 312.0,865.6 313.0,863.4 313.9,861.2 315.0,859.0 316.0,856.7 317.2,854.4 318.5,852.0 320.3,849.0 322.2,845.9 324.3,842.8 326.5,839.6 328.8,836.4 331.0,833.1 333.1,829.9 335.1,826.7 336.9,823.6 338.6,820.5 340.3,817.4 342.0,814.3 343.6,811.2 345.3,808.1 347.0,805.1 348.8,802.0 350.7,798.9 352.5,795.9 354.4,792.9 356.4,789.8 358.3,786.8 360.3,783.8 362.4,780.7 364.5,777.5 367.0,773.9 369.5,770.1 372.1,766.3 374.7,762.5 377.4,758.7 380.1,754.9 382.9,751.1 385.7,747.4 388.5,743.7 391.4,740.1 394.3,736.5 397.2,733.0 400.2,729.4 403.3,725.9 406.6,722.3 410.0,718.7 447.0,685.0 487.2,660.0 525.4,642.6 572.8,635.7 618.2,641.6 659.6,659.3 697.1,688.0 730.7,722.5 752.4,756.1 770.2,791.6 784.0,827.1 797.8,868.0 805.0,890.0 809.2,905.6 810.1,911.0 809.5,932.0 814.6,941.1 814.6,977.6"/>
<polyline points="274.0,977.5 274.3,976.6 275.1,974.0 276.2,970.2 277.6,965.5 279.1,960.2 280.7,954.8 282.2,949.6 283.5,945.0 284.7,940.4 285.9,935.7 287.0,930.9 288.2,926.0 289.4,921.2 290.5,916.6 291.7,912.2 293.0,908.0 294.0,904.9 295.1,902.0 296.2,899.1 297.3,896.4 298.3,893.7 299.4,891.1 300.5,888.5 301.5,886.0 302.3,883.9 303.2,881.8 303.9,879.8 304.7,877.8 305.5,875.9 306.3,873.9 307.1,872.0 308.0,870.0 308.9,868.0 309.7,866.1 310.6,864.2 311.5,862.2 312.4,860.3 313.4,858.3 314.4,856.2 315.5,854.0 317.2,850.9 319.0,847.7 321.0,844.3 323.1,840.8 325.2,837.3 327.3,833.8 329.2,830.2 331.0,826.7 332.5,823.3 334.0,819.9 335.3,816.5 336.6,813.0 337.9,809.6 339.2,806.2 340.5,802.7 341.9,799.3 343.4,795.9 344.9,792.4 346.4,789.0 347.9,785.6 349.4,782.2 351.0,778.8 352.6,775.4 354.2,772.0 355.8,768.6 357.5,765.2 359.2,761.7 360.9,758.3 362.6,754.9 364.4,751.5 366.1,748.1 367.9,744.7 369.7,741.3 371.6,737.8 373.4,734.4 375.3,731.0 377.2,727.6 379.1,724.1 381.0,720.7 382.9,717.3 384.8,713.9 386.6,710.5 388.4,707.1 390.3,703.7 392.2,700.3 394.0,696.8 396.0,693.4 398.0,690.0 400.1,686.5 402.3,683.0 404.4,679.5 406.7,676.1 409.0,672.5 411.3,668.9 413.9,665.1 416.5,661.0 452.9,606.3 495.4,563.8 531.9,534.9 560.0,519.7 594.5,502.3 653.7,487.5 718.8,489.5 782.0,509.2 838.1,539.9 870.0,567.3 891.9,586.7 928.3,637.7 955.0,683.9 979.3,730.0 996.3,776.2 1010.9,817.5 1018.2,851.5 1024.2,879.9 1027.6,886.8 1027.6,900.2 1031.8,918.5 1031.8,947.8 1037.6,953.6 1037.6,975.3"/>
<polyline points="273.5,977.5 273.8,976.6 274.6,974.0 275.7,970.2 277.1,965.5 278.6,960.2 280.2,954.8 281.7,949.6 283.0,945.0 284.2,940.4 285.4,935.7 286.6,930.9 287.7,926.0 288.9,921.3 290.1,916.6 291.3,912.2 292.5,908.0 293.5,904.9 294.5,902.0 295.5,899.2 296.6,896.4 297.6,893.7 298.6,891.1 299.6,888.5 300.5,886.0 301.2,883.9 301.9,881.8 302.6,879.8 303.2,877.8 303.9,875.9 304.6,873.9 305.3,872.0 306.0,870.0 306.8,868.0 307.6,866.1 308.4,864.1 309.2,862.2 310.0,860.3 311.0,858.3 311.9,856.2 313.0,854.0 314.6,850.9 316.5,847.7 318.5,844.3 320.6,840.8 322.7,837.3 324.7,833.8 326.6,830.2 328.3,826.7 329.7,823.3 331.0,819.9 332.2,816.5 333.3,813.0 334.4,809.6 335.4,806.2 336.6,802.7 337.8,799.3 339.1,795.9 340.4,792.4 341.8,789.0 343.1,785.6 344.5,782.2 345.9,778.8 347.4,775.4 348.8,772.0 350.3,768.6 351.8,765.2 353.3,761.7 354.8,758.3 356.4,754.9 357.9,751.5 359.5,748.1 361.1,744.7 362.7,741.3 364.4,737.8 366.0,734.4 367.7,730.9 369.4,727.5 371.1,724.1 372.9,720.7 374.7,717.3 376.6,713.9 378.6,710.4 380.6,707.0 382.6,703.6 384.7,700.2 386.8,696.8 388.9,693.4 391.1,690.0 393.4,686.5 395.6,683.0 397.8,679.5 400.1,676.1 402.5,672.5 404.9,668.8 407.6,665.0 410.4,661.0 451.4,606.3 489.4,560.8 516.7,533.4 559.2,500.0 574.8,488.5 630.6,452.0 697.7,425.0 767.2,412.5 838.1,418.0 909.7,441.0 940.0,459.1 976.9,483.7 1016.5,523.3 1030.2,537.0 1049.2,560.0 1063.0,576.6 1076.6,591.7 1106.1,639.8 1131.2,687.6 1149.4,735.5 1163.1,776.5 1174.5,815.3 1182.0,845.0 1185.9,860.0 1188.0,868.0 1197.6,903.5 1197.6,929.4 1203.4,938.6 1203.4,965.3 1208.4,968.6 1208.4,972.8"/>
<polyline points="272.5,977.5 272.8,976.6 273.5,974.0 274.7,970.2 276.1,965.4 277.6,960.2 279.2,954.8 280.7,949.6 282.0,945.0 283.3,940.4 284.5,935.7 285.8,930.8 287.0,926.0 288.3,921.2 289.5,916.6 290.8,912.1 292.0,908.0 293.0,905.1 293.9,902.3 294.9,899.6 295.9,897.0 296.8,894.5 297.8,892.0 298.7,889.5 299.5,887.0 300.2,884.8 300.8,882.6 301.4,880.5 302.0,878.3 302.5,876.2 303.1,874.1 303.8,872.1 304.5,870.0 305.3,868.0 306.1,866.0 306.9,864.1 307.8,862.2 308.7,860.3 309.6,858.3 310.5,856.2 311.5,854.0 312.8,850.9 314.2,847.7 315.7,844.3 317.2,840.7 318.6,837.2 320.1,833.6 321.5,830.1 322.8,826.7 323.9,823.6 325.0,820.5 326.0,817.4 327.0,814.3 327.9,811.2 328.9,808.1 329.9,805.1 331.0,802.0 332.1,798.9 333.3,795.9 334.5,792.9 335.7,789.9 336.9,786.8 338.1,783.8 339.4,780.7 340.6,777.5 341.9,774.0 343.3,770.5 344.6,767.0 346.0,763.4 347.3,759.8 348.7,756.1 350.1,752.5 351.5,748.8 353.0,744.9 354.4,741.0 355.9,737.0 357.4,732.9 358.9,728.9 360.5,725.0 362.1,721.1 363.8,717.3 365.5,713.8 367.3,710.4 369.1,707.1 371.0,703.8 372.9,700.5 374.9,697.1 376.8,693.6 378.8,690.0 381.1,685.6 383.4,681.0 385.7,676.4 388.1,671.6 390.5,666.8 393.0,661.9 395.5,656.9 398.2,651.9 401.4,646.0 404.8,639.9 408.2,633.7 411.8,627.4 415.4,621.1 419.1,614.8 422.9,608.5 426.7,602.2 460.5,550.1 495.4,500.0 503.8,491.0 559.0,434.0 618.8,381.0 694.8,331.5 776.7,301.5 862.4,285.0 955.9,295.5 1037.9,327.6 1112.9,378.0 1183.5,445.0 1231.3,509.2 1269.1,573.2 1302.7,636.8 1325.6,695.4 1340.4,746.0 1354.4,784.5 1363.6,817.0 1378.0,886.7 1378.0,905.0 1382.7,919.5 1382.7,930.8 1387.6,939.0 1387.6,970.8"/>
</g>
<g stroke="#000" stroke-width="4.6" stroke-linecap="round"><line x1="166.4" y1="1129.1" x2="1510.6" y2="1129.1" /><line x1="166.2" y1="1129.2" x2="185.6" y2="1129.2" /><line x1="175.7" y1="1054.6" x2="185.6" y2="1054.6" /><line x1="166.2" y1="980.0" x2="185.6" y2="980.0" /><line x1="175.7" y1="905.4" x2="185.6" y2="905.4" /><line x1="166.2" y1="830.8" x2="185.6" y2="830.8" /><line x1="175.7" y1="756.2" x2="185.6" y2="756.2" /><line x1="166.2" y1="681.6" x2="185.6" y2="681.6" /><line x1="175.7" y1="607.0" x2="185.6" y2="607.0" /><line x1="166.2" y1="532.4" x2="185.6" y2="532.4" /><line x1="175.7" y1="457.8" x2="185.6" y2="457.8" /><line x1="166.2" y1="383.2" x2="185.6" y2="383.2" /><line x1="175.7" y1="308.6" x2="185.6" y2="308.6" /><line x1="166.2" y1="234.0" x2="185.6" y2="234.0" /><line x1="175.7" y1="159.4" x2="185.6" y2="159.4" /><line x1="185.7" y1="1129.1" x2="185.7" y2="1138.0" /><line x1="233.0" y1="1129.1" x2="233.0" y2="1147.4" /><line x1="280.3" y1="1129.1" x2="280.3" y2="1138.0" /><line x1="327.7" y1="1129.1" x2="327.7" y2="1147.4" /><line x1="375.0" y1="1129.1" x2="375.0" y2="1138.0" /><line x1="422.3" y1="1129.1" x2="422.3" y2="1147.4" /><line x1="469.6" y1="1129.1" x2="469.6" y2="1138.0" /><line x1="517.0" y1="1129.1" x2="517.0" y2="1147.4" /><line x1="564.3" y1="1129.1" x2="564.3" y2="1138.0" /><line x1="611.6" y1="1129.1" x2="611.6" y2="1147.4" /><line x1="658.9" y1="1129.1" x2="658.9" y2="1138.0" /><line x1="706.3" y1="1129.1" x2="706.3" y2="1147.4" /><line x1="753.6" y1="1129.1" x2="753.6" y2="1138.0" /><line x1="800.9" y1="1129.1" x2="800.9" y2="1147.4" /><line x1="848.3" y1="1129.1" x2="848.3" y2="1138.0" /><line x1="895.6" y1="1129.1" x2="895.6" y2="1147.4" /><line x1="942.9" y1="1129.1" x2="942.9" y2="1138.0" /><line x1="990.2" y1="1129.1" x2="990.2" y2="1147.4" /><line x1="1037.6" y1="1129.1" x2="1037.6" y2="1138.0" /><line x1="1084.9" y1="1129.1" x2="1084.9" y2="1147.4" /><line x1="1132.2" y1="1129.1" x2="1132.2" y2="1138.0" /><line x1="1179.5" y1="1129.1" x2="1179.5" y2="1147.4" /><line x1="1226.9" y1="1129.1" x2="1226.9" y2="1138.0" /><line x1="1274.2" y1="1129.1" x2="1274.2" y2="1147.4" /><line x1="1321.5" y1="1129.1" x2="1321.5" y2="1138.0" /><line x1="1368.8" y1="1129.1" x2="1368.8" y2="1147.4" /><line x1="1416.2" y1="1129.1" x2="1416.2" y2="1138.0" /><line x1="1463.5" y1="1129.1" x2="1463.5" y2="1147.4" /><line x1="1510.8" y1="1129.1" x2="1510.8" y2="1138.0" /></g>
<line x1="185.6" y1="157.1" x2="185.6" y2="1131.4" stroke="#000" stroke-width="4.6" />
<text transform="translate(153.8,1138.0) scale(1.0,1.04)" text-anchor="end" style="font-family:'Liberation Sans',Arial,sans-serif;font-weight:bold;font-size:38.5px">-20</text><text transform="translate(153.8,988.8) scale(1.0,1.04)" text-anchor="end" style="font-family:'Liberation Sans',Arial,sans-serif;font-weight:bold;font-size:38.5px">0</text><text transform="translate(153.8,839.6) scale(1.0,1.04)" text-anchor="end" style="font-family:'Liberation Sans',Arial,sans-serif;font-weight:bold;font-size:38.5px">20</text><text transform="translate(153.8,690.4) scale(1.0,1.04)" text-anchor="end" style="font-family:'Liberation Sans',Arial,sans-serif;font-weight:bold;font-size:38.5px">40</text><text transform="translate(153.8,541.2) scale(1.0,1.04)" text-anchor="end" style="font-family:'Liberation Sans',Arial,sans-serif;font-weight:bold;font-size:38.5px">60</text><text transform="translate(153.8,392.0) scale(1.0,1.04)" text-anchor="end" style="font-family:'Liberation Sans',Arial,sans-serif;font-weight:bold;font-size:38.5px">80</text><text transform="translate(153.8,242.8) scale(1.0,1.04)" text-anchor="end" style="font-family:'Liberation Sans',Arial,sans-serif;font-weight:bold;font-size:38.5px">100</text><text transform="translate(233.0,1192.4) scale(0.945,1.045)" text-anchor="middle" style="font-family:'Liberation Sans',Arial,sans-serif;font-weight:bold;font-size:44.5px">0</text><text transform="translate(327.7,1192.4) scale(0.945,1.045)" text-anchor="middle" style="font-family:'Liberation Sans',Arial,sans-serif;font-weight:bold;font-size:44.5px">20</text><text transform="translate(422.3,1192.4) scale(0.945,1.045)" text-anchor="middle" style="font-family:'Liberation Sans',Arial,sans-serif;font-weight:bold;font-size:44.5px">40</text><text transform="translate(517.0,1192.4) scale(0.945,1.045)" text-anchor="middle" style="font-family:'Liberation Sans',Arial,sans-serif;font-weight:bold;font-size:44.5px">60</text><text transform="translate(611.6,1192.4) scale(0.945,1.045)" text-anchor="middle" style="font-family:'Liberation Sans',Arial,sans-serif;font-weight:bold;font-size:44.5px">80</text><text transform="translate(706.3,1192.4) scale(0.945,1.045)" text-anchor="middle" style="font-family:'Liberation Sans',Arial,sans-serif;font-weight:bold;font-size:44.5px">100</text><text transform="translate(800.9,1192.4) scale(0.945,1.045)" text-anchor="middle" style="font-family:'Liberation Sans',Arial,sans-serif;font-weight:bold;font-size:44.5px">120</text><text transform="translate(895.6,1192.4) scale(0.945,1.045)" text-anchor="middle" style="font-family:'Liberation Sans',Arial,sans-serif;font-weight:bold;font-size:44.5px">140</text><text transform="translate(990.2,1192.4) scale(0.945,1.045)" text-anchor="middle" style="font-family:'Liberation Sans',Arial,sans-serif;font-weight:bold;font-size:44.5px">160</text><text transform="translate(1084.9,1192.4) scale(0.945,1.045)" text-anchor="middle" style="font-family:'Liberation Sans',Arial,sans-serif;font-weight:bold;font-size:44.5px">180</text><text transform="translate(1179.5,1192.4) scale(0.945,1.045)" text-anchor="middle" style="font-family:'Liberation Sans',Arial,sans-serif;font-weight:bold;font-size:44.5px">200</text><text transform="translate(1274.2,1192.4) scale(0.945,1.045)" text-anchor="middle" style="font-family:'Liberation Sans',Arial,sans-serif;font-weight:bold;font-size:44.5px">220</text><text transform="translate(1368.8,1192.4) scale(0.945,1.045)" text-anchor="middle" style="font-family:'Liberation Sans',Arial,sans-serif;font-weight:bold;font-size:44.5px">240</text><text transform="translate(1463.5,1192.4) scale(0.945,1.045)" text-anchor="middle" style="font-family:'Liberation Sans',Arial,sans-serif;font-weight:bold;font-size:44.5px">260</text>
<text transform="translate(847.6,1272.0) scale(0.975,1.0)" text-anchor="middle" style="font-family:'Liberation Sans',Arial,sans-serif;font-weight:bold;font-size:46.5px">Zreal (ohm)</text>
<text transform="translate(59.8,675.2) rotate(-90)" x="0" y="0" text-anchor="middle" style="font-family:'Liberation Sans',Arial,sans-serif;font-weight:bold;font-size:46.5px">- Zimag (ohm)</text>
<text transform="translate(859.8,178.6) scale(0.955,1.0)" text-anchor="middle" style="font-family:'Liberation Sans',Arial,sans-serif;font-weight:bold;font-size:57px">Model C</text>
<rect x="1304.5" y="34.5" width="414" height="533.5" fill="none" stroke="#000" stroke-width="2.2"/>
<g fill="#000"><rect x="1364.2" y="60.5" width="23.5" height="23.5"/></g>
<text x="1441.8" y="87.8" xml:space="preserve" style="font-family:'Liberation Sans',Arial,sans-serif;font-weight:bold;font-size:45.3px">(blank)</text>
<g fill="#f00"><circle cx="1376.0" cy="129.5" r="13"/></g>
<text x="1441.8" y="145.4" xml:space="preserve" style="font-family:'Liberation Sans',Arial,sans-serif;font-weight:bold;font-size:45.3px"> (20.79 ppm)</text>
<g fill="#00f"><polygon points="1375.6,170.4 1391.1,197.2 1360.1,197.2"/></g>
<text x="1441.8" y="203.0" xml:space="preserve" style="font-family:'Liberation Sans',Arial,sans-serif;font-weight:bold;font-size:45.3px">(41.49 ppm)</text>
<g fill="#008080"><polygon points="1360.1,235.9 1391.1,235.9 1375.6,262.7"/></g>
<text x="1441.8" y="260.6" xml:space="preserve" style="font-family:'Liberation Sans',Arial,sans-serif;font-weight:bold;font-size:45.3px"> (62.11 ppm)</text>
<g fill="#f0f"><polygon points="1358.3,302.8 1385.1,287.3 1385.1,318.3"/></g>
<text x="1441.8" y="318.2" xml:space="preserve" style="font-family:'Liberation Sans',Arial,sans-serif;font-weight:bold;font-size:45.3px">(82.65 ppm)</text>
<g fill="#808000"><polygon points="1393.7,360.5 1366.9,345.0 1366.9,376.0"/></g>
<text x="1441.8" y="375.8" xml:space="preserve" style="font-family:'Liberation Sans',Arial,sans-serif;font-weight:bold;font-size:45.3px">(204.1 ppm)</text>
<g fill="#000080"><polygon points="1376.0,402.7 1391.8,418.3 1376.0,433.9 1360.2,418.3"/></g>
<text x="1441.8" y="433.4" xml:space="preserve" style="font-family:'Liberation Sans',Arial,sans-serif;font-weight:bold;font-size:45.3px">(283.4 ppm)</text>
<g fill="#990000"><polygon points="1376.0,461.7 1390.0,471.9 1384.6,488.3 1367.4,488.3 1362.0,471.9"/></g>
<text x="1441.8" y="491.0" xml:space="preserve" style="font-family:'Liberation Sans',Arial,sans-serif;font-weight:bold;font-size:45.3px">(625.0 ppm)</text>
<g fill="#ff0080"><polygon points="1376.0,519.9 1388.0,526.8 1388.0,540.6 1376.0,547.5 1364.0,540.6 1364.0,526.8"/></g>
<text x="1441.8" y="548.6" xml:space="preserve" style="font-family:'Liberation Sans',Arial,sans-serif;font-weight:bold;font-size:45.3px">(826.5 ppm)</text>
</svg>
</body></html>
